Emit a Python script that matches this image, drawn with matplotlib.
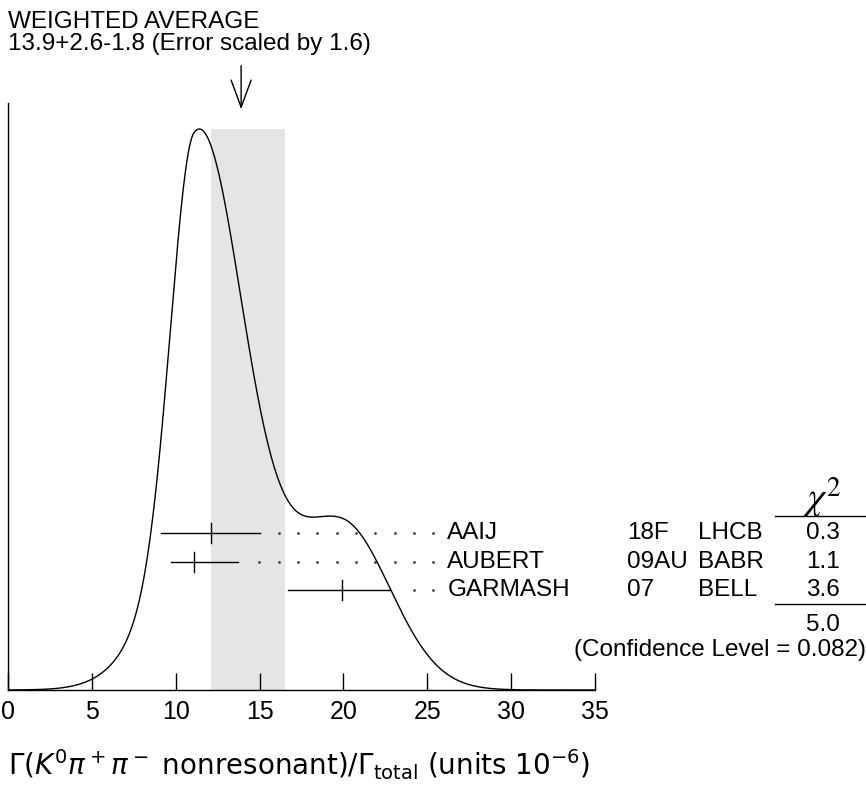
import numpy as np
import matplotlib
matplotlib.use('Agg')
import matplotlib.pyplot as plt

plt.rcParams['font.family'] = ['Liberation Sans', 'DejaVu Sans']
plt.rcParams['mathtext.fontset'] = 'dejavusans'

# measurements (units 1e-6)
names = ['AAIJ', 'AUBERT', 'GARMASH']
years = ['18F', '09AU', '07']
expts = ['LHCB', 'BABR', 'BELL']
values = [12.1, 11.1, 19.9]
err_lo = [3.0, 1.4, 3.2]
err_hi = [2.9, 2.6, 2.9]
chi2 = ['0.3', '1.1', '3.6']
chi2_total = '5.0'
conf_level = '0.082'
avg, avg_hi, avg_lo, scale = 13.9, 2.6, 1.8, 1.6

W, H = 866, 793
fig = plt.figure(figsize=(W / 100, H / 100), dpi=100)
# axes placed in pixels: x 8..595, y 690 (bottom) .. 103 (top)
ax = fig.add_axes([8 / W, (H - 690) / H, 587 / W, 587 / H])
ax.set_xlim(0, 35)
ax.set_ylim(0, 587)   # y in pixel units above the axis
for s in ['top', 'right']:
    ax.spines[s].set_visible(False)
ax.spines['left'].set_linewidth(1.0)
ax.spines['bottom'].set_linewidth(1.0)
ax.set_yticks([])
ax.set_xticks(np.arange(0, 36, 5))
ax.tick_params(axis='x', direction='in', length=12, width=1.0, pad=7, labelsize=18)

FS = 17.5

# weighted average band
peak_h = 561
ax.fill_between([avg - avg_lo, avg + avg_hi], 0, peak_h, color='#e5e5e5', lw=0, zorder=0)

# ideogram: split gaussians with area ~ 1/sigma
xs = np.linspace(0, 35, 1500)
ys = np.zeros_like(xs)
for v, lo, hi in zip(values, err_lo, err_hi):
    sig = np.where(xs < v, lo, hi)
    sbar = 0.5 * (lo + hi)
    ys += np.exp(-0.5 * ((xs - v) / sig) ** 2) / sbar ** 2
ys = ys / ys.max() * peak_h
ax.plot(xs, ys, color='black', lw=1.0, zorder=3)

# measurement rows
row_y = [157, 128, 100]
name_x = 26.2
dot_step = 1.153
for i in range(len(values)):
    y = row_y[i]
    ax.plot([values[i] - err_lo[i], values[i] + err_hi[i]], [y, y], color='black', lw=1.0, zorder=4)
    ax.plot([values[i], values[i]], [y - 10, y + 10], color='black', lw=1.0, zorder=4)
    dx = np.arange(name_x - 0.83, values[i] + err_hi[i] + 0.6, -dot_step)
    ax.plot(dx, [y] * len(dx), ls='none', marker='o', ms=1.0, color='#444444', zorder=2)
    ax.text(name_x, y, names[i], fontsize=FS, va='center', ha='left')
    ax.text(36.9, y, years[i], fontsize=FS, va='center', ha='left', clip_on=False)
    ax.text(41.15, y, expts[i], fontsize=FS, va='center', ha='left', clip_on=False)
    ax.text(48.6, y, chi2[i], fontsize=FS, va='center', ha='center', clip_on=False)

ax.text(48.5, 192, r'$\chi^2$', fontsize=28, va='center', ha='center', clip_on=False,
        math_fontfamily='stix')
ax.plot([45.75, 51.2], [174, 174], color='black', lw=1.0, clip_on=False)
ax.plot([45.75, 51.2], [86, 86], color='black', lw=1.0, clip_on=False)
ax.text(48.6, 65, chi2_total, fontsize=FS, va='center', ha='center', clip_on=False)
ax.text(51.15, 40, '(Confidence Level = %s)' % conf_level, fontsize=FS,
        va='center', ha='right', clip_on=False)

# arrow and header
ax.annotate('', xy=(avg, 578), xytext=(avg, 627),
            arrowprops=dict(arrowstyle='->, head_length=1.95, head_width=0.72',
                            mutation_scale=10, color='black', lw=1.0),
            annotation_clip=False)
fig.text(8 / W, 1 - 28 / H, 'WEIGHTED AVERAGE', fontsize=FS, va='baseline', ha='left')
fig.text(8 / W, 1 - 50 / H, '%.1f+%.1f-%.1f (Error scaled by %.1f)' % (avg, avg_hi, avg_lo, scale),
         fontsize=FS, va='baseline', ha='left')

fig.text(8 / W, 1 - 765 / H,
         r'$\Gamma\left(K^0\pi^+\pi^-\ \mathrm{nonresonant}\right)/\Gamma_{\mathrm{total}}$ (units $10^{-6}$)',
         fontsize=20, va='center', ha='left', family='DejaVu Sans')

fig.savefig('out.png', dpi=100)
